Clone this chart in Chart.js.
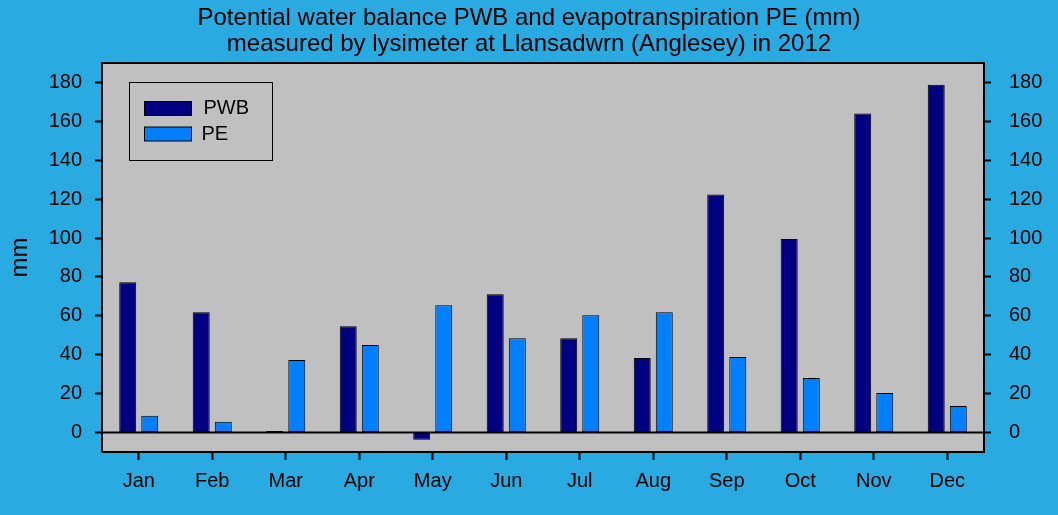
<!DOCTYPE html>
<html><head><meta charset="utf-8">
<script src="https://cdn.jsdelivr.net/npm/chart.js@4/dist/chart.umd.min.js"></script>
<style>html,body{margin:0;padding:0;background:#29ABE2;overflow:hidden}</style>
</head><body>
<canvas id="c" width="1058" height="515"></canvas>
<script>
const months = ['Jan','Feb','Mar','Apr','May','Jun','Jul','Aug','Sep','Oct','Nov','Dec'];
const pwb = [77.3, 61.9, 0.8, 54.7, -3.7, 71.1, 48.5, 38.3, 122.4, 99.5, 164.0, 178.8];
const pe  = [8.7, 5.6, 37.3, 45.0, 65.5, 48.5, 60.3, 61.9, 38.8, 28.0, 20.3, 13.7];
const yTicks = [0, 20, 40, 60, 80, 100, 120, 140, 160, 180];
const titleLines = ['Potential water balance PWB and evapotranspiration PE (mm)',
                    'measured by lysimeter at Llansadwrn (Anglesey) in 2012'];
const yTitle = 'mm';

const FONT = 'Liberation Sans, Arial, sans-serif';
const BG = '#29ABE2', PLOT = '#C0C0C0';

const framePlugin = {
  id: 'frame',
  beforeDraw(chart) {
    const {ctx, chartArea: a} = chart;
    ctx.save();
    ctx.fillStyle = BG;
    ctx.fillRect(0, 0, chart.width, chart.height);
    ctx.fillStyle = PLOT;
    ctx.fillRect(a.left, a.top, a.right - a.left, a.bottom - a.top);
    ctx.restore();
  },
  afterDatasetsDraw(chart) {
    const {ctx, chartArea: a} = chart;
    const y0 = chart.scales.y.getPixelForValue(0);
    ctx.save();
    ctx.strokeStyle = '#000';
    ctx.lineWidth = 2;
    ctx.beginPath();
    ctx.moveTo(a.left, y0); ctx.lineTo(a.right, y0);
    ctx.stroke();
    ctx.strokeRect(a.left, a.top, a.right - a.left, a.bottom - a.top);
    // legend
    const lx = a.left + 27.5, ly = a.top + 19.5;
    ctx.lineWidth = 1;
    ctx.strokeRect(lx, ly, 143, 78);
    ctx.font = '20px ' + FONT;
    ctx.textBaseline = 'middle';
    ctx.textAlign = 'left';
    chart.data.datasets.forEach((ds, i) => {
      const sy = ly + 19 + i * 25.5;
      ctx.fillStyle = ds.backgroundColor;
      ctx.fillRect(lx + 15, sy, 47, 14);
      ctx.strokeStyle = '#000';
      ctx.strokeRect(lx + 15, sy, 47, 14);
      ctx.fillStyle = '#000';
      ctx.fillText(ds.label, lx + 74 - i * 2, sy + 7);
    });
    ctx.restore();
  }
};

function yAxis(position, width, pad) {
  return {
    type: 'linear', position, min: -10, max: 190,
    afterBuildTicks: s => { s.ticks = yTicks.map(v => ({value: v})); },
    afterFit: s => { s.width = width; },
    border: {display: false},
    grid: {drawOnChartArea: false, drawTicks: true, tickLength: 7, tickColor: '#000', tickWidth: 2, color: '#000'},
    ticks: {color: '#000', font: {family: FONT, size: 20}, padding: pad},
    title: position === 'left' ? {display: true, text: yTitle, color: '#000',
      font: {family: FONT, size: 24}, padding: {top: 6, bottom: 0}} : {display: false}
  };
}

new Chart(document.getElementById('c'), {
  type: 'bar',
  data: {
    labels: months,
    datasets: [
      {label: 'PWB', data: pwb, backgroundColor: '#000080', borderColor: '#000', borderWidth: 1, borderSkipped: false,
       categoryPercentage: 0.6, barPercentage: 0.77, yAxisID: 'y'},
      {label: 'PE', data: pe, backgroundColor: '#0080FF', borderColor: '#000', borderWidth: 1, borderSkipped: false,
       categoryPercentage: 0.6, barPercentage: 0.77, yAxisID: 'y'}
    ]
  },
  options: {
    responsive: false, animation: false, devicePixelRatio: 1,
    layout: {padding: 0},
    plugins: {
      legend: {display: false}, tooltip: {enabled: false},
      title: {display: true, text: titleLines, color: '#000',
        font: {family: FONT, size: 24, weight: 'normal', lineHeight: 26 / 24},
        padding: {top: 5, bottom: 6}}
    },
    scales: {
      x: {
        afterFit: s => { s.height = 63; },
        border: {display: false},
        grid: {offset: false, drawOnChartArea: false, drawTicks: true, tickLength: 8, tickColor: '#000', tickWidth: 2, color: '#000'},
        ticks: {color: '#000', font: {family: FONT, size: 20}, padding: 9, maxRotation: 0}
      },
      y: yAxis('left', 102, 13),
      y2: yAxis('right', 74, 18)
    }
  },
  plugins: [framePlugin]
});
</script>
</body></html>
